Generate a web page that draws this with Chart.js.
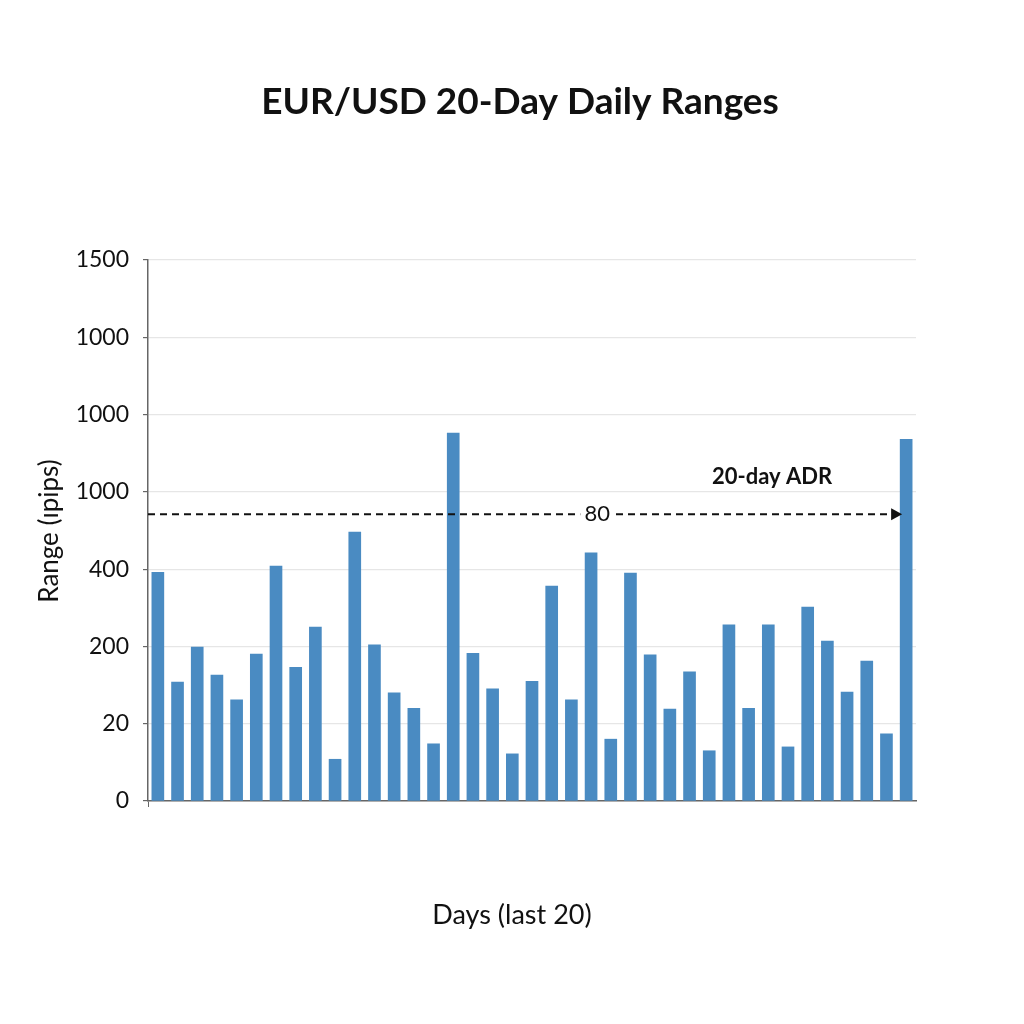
<!DOCTYPE html>
<html>
<head>
<meta charset="utf-8">
<title>EUR/USD 20-Day Daily Ranges</title>
<script src="https://cdn.jsdelivr.net/npm/chart.js@4.4.1/dist/chart.umd.min.js"></script>
<style>
    html, body { margin: 0; padding: 0; background: #fff; }
    canvas { display: block; }
</style>
</head>
<body>
<canvas id="rangeChart" width="1024" height="1024"></canvas>
<script>
const TITLE = 'EUR/USD 20-Day Daily Ranges';
const Y_TITLE = 'Range (ıpips)';
const X_TITLE = 'Days (last 20)';
const ADR_LABEL = '20-day ADR';
const ADR_TEXT = '80';

// tick labels as printed on the source, bottom to top, one per gridline
const yTickLabels = ['0', '20', '200', '400', '1000', '1000', '1000', '1500'];

// bar heights, read in gridline steps (0 = baseline, 7 = top line)
const dailyRanges = [
    2.96, 1.54, 1.99, 1.63, 1.31, 1.90, 3.04, 1.73, 2.25, 0.54,
    3.48, 2.02, 1.40, 1.20, 0.74, 4.76, 1.91, 1.45, 0.61, 1.55,
    2.78, 1.31, 3.21, 0.80, 2.95, 1.89, 1.19, 1.67, 0.65, 2.28,
    1.20, 2.28, 0.70, 2.51, 2.07, 1.41, 1.81, 0.87, 4.68,
];
const adrLevel = 3.71;
const days = dailyRanges.map((_, i) => String(i + 1));

const FONT = 'Lato, "Open Sans", sans-serif';
const BAR_BLUE = '#4a8bc2';
const AXIS_GREY = '#666';

// titles and the dashed ADR marker, drawn after the bars
const overlay = {
    id: 'overlay',
    afterDraw(chart) {
        const { ctx, chartArea: area, scales } = chart;
        ctx.save();
        ctx.fillStyle = '#111';
        ctx.textAlign = 'center';
        ctx.textBaseline = 'middle';

        ctx.font = `bold 37px ${FONT}`;
        ctx.fillText(TITLE, 520, 102);

        ctx.font = `27px ${FONT}`;
        ctx.fillText(X_TITLE, 512, 915);

        ctx.save();
        ctx.translate(50, 531);
        ctx.rotate(-Math.PI / 2);
        ctx.font = `26px ${FONT}`;
        ctx.fillText(Y_TITLE, 0, 0);
        ctx.restore();

        // ADR dashed arrow
        const y = scales.y.getPixelForValue(adrLevel);
        const tip = scales.x.getPixelForValue(days.length - 1) - 4;
        ctx.strokeStyle = '#111';
        ctx.lineWidth = 2;
        ctx.setLineDash([7, 5]);
        ctx.beginPath();
        ctx.moveTo(area.left, y);
        ctx.lineTo(tip - 8, y);
        ctx.stroke();
        ctx.setLineDash([]);
        ctx.beginPath();
        ctx.moveTo(tip, y);
        ctx.lineTo(tip - 11, y - 6);
        ctx.lineTo(tip - 11, y + 6);
        ctx.closePath();
        ctx.fill();

        const labelX = area.left + area.width * 0.585;
        ctx.fillStyle = '#fff';
        ctx.fillRect(labelX - 17, y - 4, 34, 8);
        ctx.fillStyle = '#111';
        ctx.font = `22px ${FONT}`;
        ctx.fillText(ADR_TEXT, labelX, y);

        ctx.font = `bold 22px ${FONT}`;
        ctx.fillText(ADR_LABEL, 772, 477);
        ctx.restore();
    },
};

new Chart(document.getElementById('rangeChart').getContext('2d'), {
    type: 'bar',
    data: {
        labels: days,
        datasets: [
            {
                label: 'Daily range',
                data: dailyRanges,
                backgroundColor: BAR_BLUE,
                barThickness: 12,
                borderWidth: 0,
            },
        ],
    },
    options: {
        responsive: false,
        animation: false,
        devicePixelRatio: 1,
        layout: { padding: { top: 260, left: 20, right: 108, bottom: 213 } },
        plugins: {
            legend: { display: false },
            tooltip: { enabled: false },
            title: { display: false },
        },
        scales: {
            x: {
                offset: true,
                ticks: { display: false },
                grid: {
                    display: true,
                    drawOnChartArea: false,
                    tickLength: 6,
                    tickColor: (c) => (c.index === 0 ? AXIS_GREY : 'rgba(0,0,0,0)'),
                },
                border: { display: true, color: AXIS_GREY, width: 1.5 },
                afterFit: (s) => { s.height = 10; },
            },
            y: {
                min: 0,
                max: yTickLabels.length - 1,
                ticks: {
                    stepSize: 1,
                    padding: 14,
                    color: '#111',
                    font: { family: FONT, size: 23 },
                    callback: (v) => yTickLabels[v] ?? '',
                },
                grid: {
                    color: '#e6e6e6',
                    lineWidth: 1.2,
                    tickLength: 5,
                    tickColor: AXIS_GREY,
                },
                border: { display: true, color: AXIS_GREY, width: 1.5 },
                afterFit: (s) => { s.width = 128; },
            },
        },
    },
    plugins: [overlay],
});
</script>
</body>
</html>
